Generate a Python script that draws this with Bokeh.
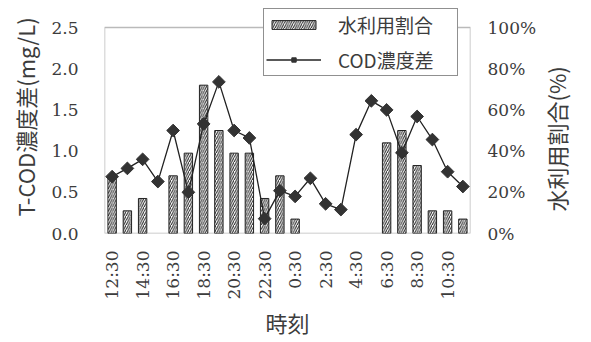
import math
from bokeh.plotting import figure
from bokeh.models import (ColumnDataSource, Range1d, LinearAxis, BoxAnnotation,
                          Legend, LegendItem, FixedTicker)
from bokeh.embed import file_html
from bokeh.resources import INLINE

# hourly sampling times (12:30 through 11:30 the next day)
times = ["12:30", "13:30", "14:30", "15:30", "16:30", "17:30", "18:30", "19:30",
         "20:30", "21:30", "22:30", "23:30", "0:30", "1:30", "2:30", "3:30",
         "4:30", "5:30", "6:30", "7:30", "8:30", "9:30", "10:30", "11:30"]

# share of water use (%) per hour
water_share = [28, 11, 17, 0, 28, 39, 72, 50, 39, 39, 17, 28,
               7, 0, 0, 0, 0, 0, 44, 50, 33, 11, 11, 7]

# T-COD concentration difference (mg/L)
cod_diff = [0.69, 0.79, 0.90, 0.63, 1.25, 0.50, 1.33, 1.84, 1.25, 1.16, 0.18, 0.52,
            0.45, 0.67, 0.36, 0.29, 1.20, 1.61, 1.50, 0.98, 1.42, 1.14, 0.75, 0.57]

left_ticks = [0.0, 0.5, 1.0, 1.5, 2.0, 2.5]
right_ticks = [0, 20, 40, 60, 80, 100]

TEXT = "#3c3c3c"
SERIF = "DejaVu Serif"
CJK = "Noto Sans CJK JP"

# one slot per hour, centred on i + 0.5
slot = [i + 0.5 for i in range(len(times))]

# the plotting frame reaches above the boxed area so the legend,
# which sits across the box's top edge, is not clipped
BOX_H = 206      # px height of the boxed area (0 .. 2.5)
HEADROOM = 27    # px of frame above the box
COD_MAX, PCT_MAX = 2.5, 100
scale = (BOX_H + HEADROOM) / BOX_H

p = figure(width=591, height=342, x_range=Range1d(0, len(times)),
           y_range=Range1d(0, COD_MAX * scale), output_backend="svg",
           toolbar_location=None,
           min_border_left=104, min_border_right=98, min_border_top=0,
           min_border_bottom=109, background_fill_color="white",
           border_fill_color="white")
p.extra_y_ranges = {"pct": Range1d(0, PCT_MAX * scale)}

p.outline_line_color = None
p.xgrid.grid_line_color = None
p.ygrid.grid_line_color = None

# box around the data area
p.add_layout(BoxAnnotation(left=0, right=len(times), bottom=0, top=COD_MAX,
                           fill_alpha=0, line_color="#1a1a1a", line_width=1.5,
                           level="underlay"))

bar_src = ColumnDataSource(dict(
    x=[s for s, w in zip(slot, water_share) if w > 0],
    w=[w for w in water_share if w > 0],
))
bars = p.vbar(x="x", top="w", width=0.55, source=bar_src, y_range_name="pct",
              fill_color="white", line_color="#222222", line_width=1,
              hatch_pattern="/", hatch_color="#222222", hatch_scale=4.5,
              hatch_weight=1)

cod_src = ColumnDataSource(dict(x=slot, c=cod_diff))
ln = p.line(x="x", y="c", source=cod_src, line_color="#222222", line_width=1.3)
pts = p.scatter(x="x", y="c", source=cod_src, marker="square", angle=math.pi / 4,
                size=9, fill_color="#333333", line_color="#333333")

# left axis
ya = p.yaxis[0]
ya.ticker = FixedTicker(ticks=left_ticks)
ya.major_label_overrides = {v: f"{v:.1f}" for v in left_ticks}
ya.axis_label = "T-COD濃度差(mg/L)"

# right axis for the water-use share
ra = LinearAxis(y_range_name="pct", ticker=FixedTicker(ticks=right_ticks))
ra.major_label_overrides = {v: f"{v}%" for v in right_ticks}
ra.axis_label = "\u3000水利用割合(%)"
p.add_layout(ra, "right")

# time axis: every other hour is labelled
xa = p.xaxis[0]
xa.ticker = FixedTicker(ticks=slot[::2])
xa.major_label_overrides = {s: t for s, t in zip(slot, times)}
xa.axis_label = "時刻"
xa.major_label_orientation = math.pi / 2

for ax in (xa, ya, ra):
    ax.axis_line_color = None
    ax.major_tick_line_color = None
    ax.minor_tick_line_color = None
    ax.major_tick_out = 0
    ax.major_tick_in = 0
    ax.major_label_text_font = SERIF
    ax.major_label_text_font_size = "17px"
    ax.major_label_text_color = TEXT
    ax.axis_label_text_font = CJK
    ax.axis_label_text_font_size = "22px"
    ax.axis_label_text_font_style = "normal"
    ax.axis_label_text_color = TEXT

ya.major_label_standoff = 26
ya.axis_label_standoff = 7
ra.major_label_standoff = 17
ra.axis_label_standoff = 17
# read the right title bottom-to-top, like the left one
ra.axis_label_orientation = math.pi / 2
ra.axis_label_align = "start"
ra.axis_label_text_line_height = 0.5
xa.major_label_standoff = 17
xa.axis_label_standoff = 4

legend = Legend(items=[LegendItem(label="水利用割合", renderers=[bars]),
                       LegendItem(label="COD濃度差", renderers=[ln, pts])],
                location=(159, 157), orientation="vertical")
legend.label_text_font = CJK
legend.label_text_font_size = "19px"
legend.label_text_color = TEXT
legend.glyph_width = 55
legend.glyph_height = 11
legend.label_height = 20
legend.label_width = 117
legend.label_standoff = 17
legend.spacing = 8
legend.padding = 2
legend.margin = 0
legend.border_line_color = "#222222"
legend.border_line_width = 1
legend.background_fill_color = "white"
legend.background_fill_alpha = 1
p.add_layout(legend, "center")

open("out.html", "w").write(file_html(p, INLINE))
